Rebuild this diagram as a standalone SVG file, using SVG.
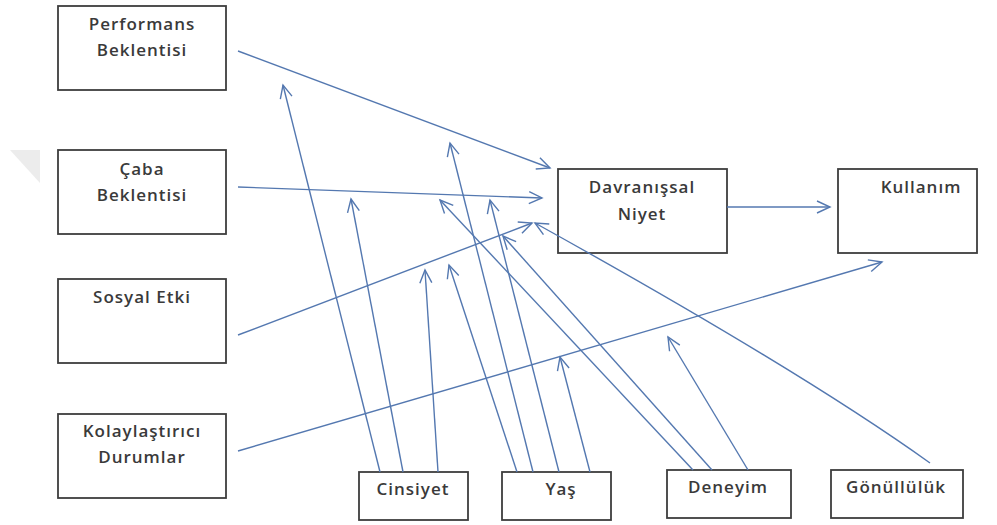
<svg xmlns="http://www.w3.org/2000/svg" width="997" height="525" viewBox="0 0 997 525">
  <style>
    .box { fill: #ffffff; stroke: #3d3d3d; stroke-width: 1.8; }
    .lbl { font-family: "Open Sans", "Noto Sans", "Liberation Sans", sans-serif; font-size: 17px; font-weight: 600; letter-spacing: 1px; fill: #3a3a3a; text-anchor: middle; }
    .link { fill: none; stroke: #5478b0; stroke-width: 1.4; marker-end: url(#open); }
  </style>
  <defs>
    <marker id="open" markerUnits="userSpaceOnUse" markerWidth="20" markerHeight="20" viewBox="-16 -10 20 20" refX="0" refY="0" orient="auto">
      <path d="M-13,-6 L0,0 L-13,6" fill="none" stroke="#5478b0" stroke-width="1.4"/>
    </marker>
  </defs>
  <rect width="997" height="525" fill="#ffffff"/>
  <!-- faint corner mark -->
  <polygon points="10,150 40,150 40,183" fill="#ececec"/>

  <g id="performans">
    <rect class="box" x="58" y="6" width="168" height="84"/>
    <text class="lbl" x="142" y="30">Performans</text>
    <text class="lbl" x="142" y="56">Beklentisi</text>
  </g>
  <g id="caba">
    <rect class="box" x="58" y="150" width="168" height="84"/>
    <text class="lbl" x="142" y="175">Çaba</text>
    <text class="lbl" x="142" y="201">Beklentisi</text>
  </g>
  <g id="sosyal">
    <rect class="box" x="58" y="279" width="168" height="84"/>
    <text class="lbl" x="142" y="303">Sosyal Etki</text>
  </g>
  <g id="kolaylastirici">
    <rect class="box" x="58" y="414" width="168" height="84"/>
    <text class="lbl" x="142" y="437">Kolaylaştırıcı</text>
    <text class="lbl" x="142" y="463">Durumlar</text>
  </g>
  <g id="niyet">
    <rect class="box" x="558" y="169" width="169" height="84"/>
    <text class="lbl" x="642" y="193">Davranışsal</text>
    <text class="lbl" x="642" y="220">Niyet</text>
  </g>
  <g id="kullanim">
    <rect class="box" x="838" y="169" width="139" height="84"/>
    <text class="lbl" x="921" y="193">Kullanım</text>
  </g>
  <g id="cinsiyet">
    <rect class="box" x="359" y="472" width="109" height="48"/>
    <text class="lbl" x="413" y="495">Cinsiyet</text>
  </g>
  <g id="yas">
    <rect class="box" x="502" y="472" width="109" height="48"/>
    <text class="lbl" x="561" y="495">Yaş</text>
  </g>
  <g id="deneyim">
    <rect class="box" x="667" y="470" width="124" height="48"/>
    <text class="lbl" x="728" y="493">Deneyim</text>
  </g>
  <g id="gonulluluk">
    <rect class="box" x="831" y="470" width="132" height="48"/>
    <text class="lbl" x="896" y="493">Gönüllülük</text>
  </g>

  <g id="connectors">
    <!-- constructs to intention / usage -->
    <line class="link" x1="238" y1="51" x2="550" y2="168"/>
    <line class="link" x1="238" y1="187" x2="542" y2="198"/>
    <line class="link" x1="238" y1="335" x2="532" y2="223"/>
    <line class="link" x1="238" y1="451" x2="882" y2="262"/>
    <line class="link" x1="727" y1="207" x2="830" y2="207"/>
    <!-- moderators -->
    <path class="link" d="M930,463 Q800,370 535,223"/>
    <line class="link" x1="380" y1="472" x2="283" y2="85"/>
    <line class="link" x1="403" y1="472" x2="351" y2="199"/>
    <line class="link" x1="438" y1="472" x2="425" y2="270"/>
    <line class="link" x1="517" y1="472" x2="449" y2="265"/>
    <line class="link" x1="533" y1="472" x2="450" y2="143"/>
    <line class="link" x1="559" y1="472" x2="490" y2="200"/>
    <line class="link" x1="590" y1="472" x2="560" y2="357"/>
    <line class="link" x1="693" y1="470" x2="440" y2="200"/>
    <line class="link" x1="712" y1="470" x2="503" y2="236"/>
    <line class="link" x1="748" y1="470" x2="668" y2="337"/>
  </g>
</svg>
